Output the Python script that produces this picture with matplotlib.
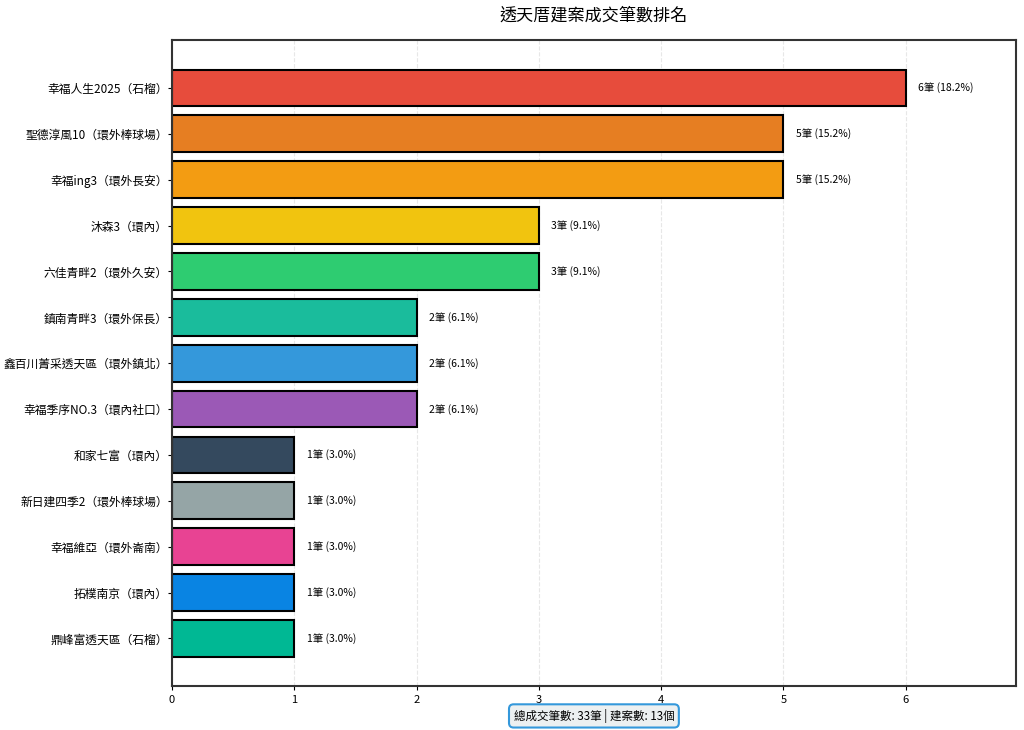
import matplotlib.pyplot as plt
import numpy as np

plt.rcParams['font.family'] = ['Noto Sans CJK TC', 'DejaVu Sans']

projects = ['幸福人生2025（石榴）', '聖德淳風10（環外棒球場）', '幸福ing3（環外長安）',
            '沐森3（環內）', '六佳青畔2（環外久安）', '鎮南青畔3（環外保長）',
            '鑫百川菁采透天區（環外鎮北）', '幸福季序NO.3（環內社口）', '和家七富（環內）',
            '新日建四季2（環外棒球場）', '幸福維亞（環外崙南）', '拓樸南京（環內）',
            '鼎峰富透天區（石榴）']
counts = [6, 5, 5, 3, 3, 2, 2, 2, 1, 1, 1, 1, 1]
colors = ['#e74c3c', '#e67e22', '#f39c12', '#f1c40f', '#2ecc71', '#1abc9c', '#3498db',
          '#9b59b6', '#34495e', '#95a5a6', '#e84393', '#0984e3', '#00b894']

total = sum(counts)

fig, ax = plt.subplots(figsize=(10.24, 7.3), dpi=100)
fig.subplots_adjust(left=0.168, right=0.992, top=0.945, bottom=0.06)

y = np.arange(len(projects))
bars = ax.barh(y, counts, color=colors, edgecolor='black', linewidth=1.5, height=0.8)
ax.invert_yaxis()
ax.set_yticks(y)
ax.set_yticklabels(projects, fontsize=8.5)
ax.tick_params(axis='y', length=3, pad=0)
ax.tick_params(axis='x', labelsize=8, length=3)

for b, c in zip(bars, counts):
    ax.text(b.get_width() + 0.1, b.get_y() + b.get_height() / 2,
            f'{c}筆 ({c / total * 100:.1f}%)', va='center', fontsize=7.5)

ax.set_xlim(0, max(counts) * 1.15)
ax.grid(axis='x', linestyle='--', alpha=0.3)
ax.set_axisbelow(True)
for s in ax.spines.values():
    s.set_linewidth(1.5)
    s.set_color('#333333')

ax.set_title('透天厝建案成交筆數排名', fontsize=12.3, pad=14)

ax.text(0.5, -0.046, f'總成交筆數: {total}筆 | 建案數: {len(projects)}個', ha='center',
        va='center', fontsize=8.3, transform=ax.transAxes,
        bbox=dict(boxstyle='round,pad=0.4', facecolor='#ecf0f1', edgecolor='#3498db', linewidth=1.5))

plt.savefig('out.png', dpi=100)
